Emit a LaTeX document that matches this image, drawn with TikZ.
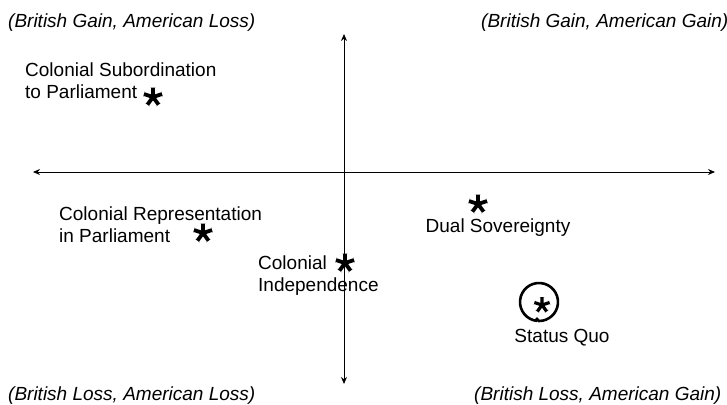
\documentclass[tikz,border=0pt]{standalone}
\usepackage{fontspec}
\setmainfont{Liberation Sans}
\usetikzlibrary{arrows.meta}
\tikzset{
  axis/.style={line width=0.8pt, {Stealth[length=7pt,width=6pt]}-{Stealth[length=7pt,width=6pt]}},
  quadrant/.style={font=\fontsize{19}{20}\selectfont\itshape, inner sep=0pt},
  label/.style={font=\fontsize{19}{22}\selectfont, inner sep=0pt, align=left},
  % five-armed bold asterisk with arms widening toward their tips;
  % argument = overall size in pt
  pics/asterisk/.style={code={
    \foreach \a in {90,18,162,-54,-126}
      \fill (0,0) ++(\a+90:#1*0.1pt) -- ++(\a:#1*0.5pt) -- ++(\a+90:#1*0.06pt)
            -- ++(\a-90:#1*0.32pt) -- ++(\a+90:#1*0.06pt) -- ++(\a+180:#1*0.5pt) -- cycle;
    \fill (0,0) circle (#1*0.18pt);
  }},
}
\begin{document}
\begin{tikzpicture}[x=1pt,y=-1pt]
\useasboundingbox (0,0) rectangle (727,404);

% axes
\coordinate (top) at (344,34);
\coordinate (bottom) at (344,384);
\coordinate (left) at (33,172);
\coordinate (right) at (715,172);
\draw[axis] (bottom) -- (top);
\draw[axis] (left) -- (right);

% quadrant captions
\node[quadrant, anchor=west] (gl) at (8,23) {(British Gain, American Loss)};
\node[quadrant, anchor=west] (gg) at (481,23) {(British Gain, American Gain)};
\node[quadrant, anchor=west] (ll) at (8,396) {(British Loss, American Loss)};
\node[quadrant, anchor=west] (lg) at (474,396) {(British Loss, American Gain)};

% outcomes
\node[label, anchor=north west] (sub) at (25,63) {Colonial Subordination\\to Parliament};
\pic at (153,97) {asterisk=19};

\node[label, anchor=north west] (rep) at (59,207) {Colonial Representation\\in Parliament};
\pic at (203,233) {asterisk=19};

\node[label, anchor=north west] (ind) at (258,256) {Colonial\\Independence};
\pic at (345,263) {asterisk=19};

\pic at (478,204) {asterisk=19};
\node[label, anchor=north] (dual) at (498,219) {Dual Sovereignty};

\pic at (542,305) {asterisk=16};
\draw[line width=2.6pt] (539,302) ++(95:19) arc[start angle=95, end angle=450, radius=19]
  -- ++(-3,-3);
\node[label, anchor=north] (sq) at (562,329) {Status Quo};
\end{tikzpicture}
\end{document}
